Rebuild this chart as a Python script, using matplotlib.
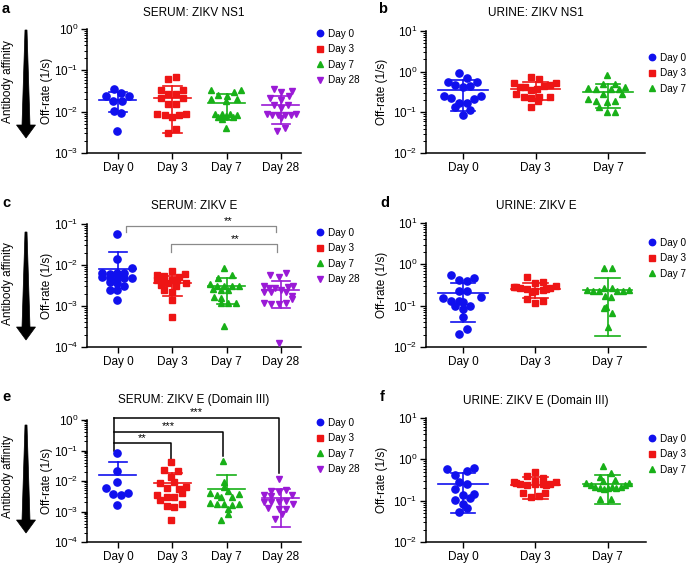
import math
import matplotlib
matplotlib.use('Agg')
import matplotlib.pyplot as plt
from matplotlib.patches import Polygon
from matplotlib.lines import Line2D
from matplotlib.ticker import LogLocator, LogFormatterSciNotation, NullFormatter, FixedLocator

plt.rcParams['font.family'] = ['Liberation Sans', 'DejaVu Sans']
plt.rcParams['mathtext.default'] = 'regular'

# ---------------- data ----------------
days4 = ['Day 0', 'Day 3', 'Day 7', 'Day 28']
days3 = ['Day 0', 'Day 3', 'Day 7']

# Panel a: SERUM ZIKV NS1
a_vals = [
    [0.0353, 0.0244, 0.0290, 0.0244, 0.0181, 0.0181, 0.0102, 0.0091, 0.0035],
    [0.0617, 0.0703, 0.0328, 0.0328, 0.0267, 0.0267, 0.0210, 0.0212, 0.0153, 0.0153,
     0.0086, 0.0083, 0.0074, 0.0083, 0.0086, 0.0039, 0.0030],
    [0.0328, 0.0305, 0.0340, 0.0248, 0.0239, 0.0202, 0.0202, 0.0178, 0.0088, 0.0089,
     0.0089, 0.0083, 0.0075, 0.0080, 0.0075, 0.0068, 0.0040],
    [0.0347, 0.0305, 0.0316, 0.0210, 0.0244, 0.0191, 0.0145, 0.0145, 0.0120, 0.0086,
     0.0083, 0.0083, 0.0083, 0.0083, 0.0089, 0.0069, 0.0040, 0.0034],
]
a_offs = [
    [-0.08, -0.22, 0.06, 0.20, -0.09, 0.07, -0.08, 0.06, -0.01],
    [-0.07, 0.07, -0.21, 0.20, -0.07, 0.07, -0.21, 0.20, -0.07, 0.07,
     -0.28, -0.13, 0.0, 0.13, 0.26, 0.07, -0.07],
    [-0.28, 0.13, 0.26, -0.15, 0.0, -0.28, 0.20, -0.01, -0.21, -0.08,
     0.06, 0.19, -0.15, -0.01, 0.12, -0.08, -0.01],
    [-0.13, 0.01, 0.21, -0.20, 0.14, 0.0, -0.13, 0.13, 0.0, -0.26,
     -0.16, -0.06, 0.07, 0.18, 0.28, 0.0, 0.07, -0.07],
]
a_mean = [0.0195, 0.0220, 0.0162, 0.0147]
a_sd = [0.0098, 0.0190, 0.0100, 0.0097]

# Panel b: URINE ZIKV NS1
b_vals = [
    [0.95, 0.557, 0.479, 0.711, 0.557, 0.412, 0.444, 0.252, 0.230, 0.213, 0.247,
     0.135, 0.170, 0.170, 0.112, 0.088],
    [0.739, 0.673, 0.517, 0.428, 0.428, 0.444, 0.470, 0.517, 0.361, 0.375, 0.288,
     0.238, 0.230, 0.238, 0.238, 0.186, 0.135],
    [0.813, 0.489, 0.489, 0.397, 0.368, 0.368, 0.382, 0.420, 0.277, 0.288, 0.217,
     0.190, 0.183, 0.190, 0.135, 0.102, 0.104],
]
b_offs = [
    [-0.06, -0.21, -0.11, 0.05, 0.20, 0.0, 0.10, -0.26, -0.16, 0.15, 0.25,
     -0.11, -0.06, 0.05, 0.10, 0.0],
    [-0.06, 0.05, -0.30, -0.21, -0.14, 0.12, 0.20, 0.28, -0.06, 0.02, -0.27,
     -0.16, -0.06, 0.05, 0.20, 0.03, -0.06],
    [-0.01, -0.07, 0.09, -0.27, -0.17, 0.04, 0.15, 0.24, 0.19, -0.07, -0.27,
     -0.17, -0.01, 0.09, -0.12, -0.01, 0.09],
]
b_mean = [0.36, 0.38, 0.32]
b_sd = [0.25, 0.175, 0.19]

# Panel c: SERUM ZIKV E
c_vals = [
    [0.0560, 0.0140, 0.0086, 0.0065, 0.0060, 0.0063, 0.0063, 0.0052, 0.0047, 0.0047,
     0.0047, 0.0048, 0.0037, 0.0039, 0.0030, 0.0024, 0.0024, 0.0014],
    [0.0073, 0.0057, 0.0055, 0.0059, 0.0051, 0.0043, 0.0043, 0.0044, 0.0042, 0.0036,
     0.0033, 0.0036, 0.0030, 0.0025, 0.0022, 0.0014, 0.00055],
    [0.0086, 0.0057, 0.0049, 0.0034, 0.0031, 0.0031, 0.0030, 0.0031, 0.0026, 0.0025,
     0.0024, 0.0017, 0.0016, 0.0012, 0.0012, 0.0012, 0.00033],
    [0.0057, 0.0065, 0.0050, 0.0031, 0.0028, 0.0027, 0.0025, 0.0029, 0.0030, 0.0022,
     0.0022, 0.0022, 0.0018, 0.0012, 0.0011, 0.0011, 0.0012, 0.0015, 0.000128],
]
c_offs = [
    [-0.02, -0.02, 0.25, -0.29, -0.15, -0.02, 0.12, -0.29, -0.15, -0.02,
     0.12, 0.25, -0.02, -0.15, 0.12, -0.15, -0.02, -0.02],
    [-0.01, -0.28, -0.15, 0.23, 0.13, -0.28, -0.15, -0.01, 0.09, 0.25,
     -0.21, -0.08, 0.06, -0.15, -0.01, -0.01, -0.01],
    [-0.05, 0.10, -0.15, -0.31, -0.17, -0.04, 0.10, 0.23, -0.25, -0.11,
     0.02, -0.24, -0.11, -0.10, 0.03, 0.17, -0.04],
    [-0.20, 0.10, -0.04, -0.32, -0.21, -0.10, 0.01, 0.13, 0.23, -0.32,
     -0.18, 0.10, 0.21, -0.32, -0.18, -0.04, 0.10, 0.21, -0.04],
]
c_mean = [0.0080, 0.0036, 0.0030, 0.0025]
c_sd = [0.0124, 0.0018, 0.0019, 0.0016]

# Panel d: URINE ZIKV E
d_vals = [
    [0.552, 0.418, 0.403, 0.458, 0.231, 0.231, 0.150, 0.132, 0.132, 0.100, 0.162,
     0.100, 0.125, 0.0846, 0.0542, 0.0272, 0.0206],
    [0.503, 0.360, 0.374, 0.278, 0.263, 0.248, 0.231, 0.239, 0.263, 0.299, 0.285,
     0.218, 0.142, 0.118, 0.132, 0.248],
    [0.800, 0.800, 0.235, 0.226, 0.226, 0.272, 0.263, 0.226, 0.226, 0.239, 0.171,
     0.165, 0.093, 0.086, 0.065, 0.030],
]
d_offs = [
    [-0.16, -0.06, 0.05, 0.15, -0.06, 0.05, -0.27, -0.16, -0.06, 0.10, 0.25,
     -0.11, 0.0, 0.0, 0.0, 0.05, -0.06],
    [-0.11, 0.0, 0.10, -0.30, -0.21, -0.11, 0.0, 0.10, 0.20, 0.28, -0.26,
     -0.05, -0.11, 0.0, 0.10, 0.15],
    [-0.05, 0.06, -0.29, -0.20, -0.12, -0.05, 0.06, 0.13, 0.21, 0.30, -0.04,
     0.05, -0.02, -0.05, 0.06, 0.0],
]
d_mean = [0.20, 0.25, 0.245]
d_sd = [0.16, 0.10, 0.227]

# Panel e: SERUM ZIKV E (Domain III)
e_vals = [
    [0.0824, 0.0209, 0.0092, 0.0060, 0.0038, 0.0036, 0.0039, 0.0016],
    [0.0420, 0.0237, 0.0219, 0.0140, 0.0083, 0.0092, 0.0057, 0.0053, 0.0063, 0.0041,
     0.0036, 0.0023, 0.0031, 0.0031, 0.0015, 0.0014, 0.0018, 0.00053],
    [0.0464, 0.0092, 0.0066, 0.0041, 0.0035, 0.0047, 0.0038, 0.0030, 0.0031, 0.0019,
     0.0018, 0.0017, 0.0016, 0.0018, 0.0012, 0.0008, 0.00053],
    [0.0112, 0.0047, 0.0044, 0.0049, 0.0035, 0.0032, 0.0035, 0.0020, 0.0021, 0.0021,
     0.0022, 0.0017, 0.0013, 0.0012, 0.0012, 0.0008, 0.00056],
]
e_offs = [
    [-0.02, -0.02, -0.02, -0.22, -0.09, 0.05, 0.18, -0.02],
    [-0.02, -0.16, 0.11, -0.02, -0.23, 0.04, -0.09, 0.12, 0.25, 0.18,
     -0.29, -0.23, -0.09, 0.04, -0.09, 0.04, 0.18, -0.02],
    [-0.06, -0.05, -0.04, -0.31, -0.17, 0.02, 0.23, -0.11, 0.10, -0.31,
     -0.17, -0.04, 0.10, 0.23, 0.02, 0.02, -0.11],
    [-0.04, -0.18, -0.04, 0.10, -0.32, -0.18, 0.21, -0.32, -0.18, -0.04,
     0.10, 0.23, -0.23, -0.04, 0.10, 0.02, -0.10],
]
e_mean = [0.0159, 0.0085, 0.0056, 0.0028]
e_sd = [0.0272, 0.0099, 0.0107, 0.0025]

# Panel f: URINE ZIKV E (Domain III)
f_vals = [
    [0.586, 0.620, 0.535, 0.421, 0.286, 0.256, 0.187, 0.134, 0.142, 0.118, 0.102,
     0.085, 0.068, 0.0525],
    [0.506, 0.406, 0.356, 0.286, 0.247, 0.238, 0.247, 0.247, 0.256, 0.286, 0.153,
     0.122, 0.132, 0.156, 0.296, 0.265, 0.238],
    [0.705, 0.370, 0.470, 0.308, 0.265, 0.238, 0.213, 0.198, 0.187, 0.198, 0.213,
     0.198, 0.213, 0.238, 0.265, 0.300, 0.108, 0.108],
]
f_offs = [
    [-0.22, 0.15, 0.05, -0.11, -0.06, 0.05, -0.11, 0.0, 0.15, 0.10, -0.11,
     0.0, 0.05, -0.06],
    [0.0, -0.11, 0.10, -0.30, -0.21, -0.11, 0.0, 0.10, 0.20, 0.28, -0.17,
     -0.06, 0.05, 0.14, 0.0, -0.26, 0.15],
    [-0.06, -0.11, 0.05, 0.10, -0.30, -0.23, -0.17, -0.11, -0.05, 0.01, 0.06,
     0.12, 0.18, 0.24, 0.30, -0.06, -0.11, 0.05],
]
f_mean = [0.256, 0.238, 0.252]
f_sd = [0.205, 0.13, 0.17]

titles = ['SERUM: ZIKV NS1', 'URINE: ZIKV NS1', 'SERUM: ZIKV E', 'URINE: ZIKV E',
          'SERUM: ZIKV E (Domain III)', 'URINE: ZIKV E (Domain III)']
letters = ['a', 'b', 'c', 'd', 'e', 'f']

colors = ['#1010ee', '#ee1515', '#18b018', '#9a1ad6']
markers = ['o', 's', '^', 'v']
msizes = [5.2, 4.8, 4.8, 4.8]

W, H = 691, 563
fig = plt.figure(figsize=(W / 100, H / 100), dpi=100)


def px_axes(x0, x1, ytop, ybot):
    return fig.add_axes([x0 / W, 1 - ybot / H, (x1 - x0) / W, (ybot - ytop) / H])


def draw_panel(ax, vals, offs, means, sds, labels, ylim, xlim, title, title_dy,
               leg_x, leg_y, ylab_x):
    hw, cw = 0.34, 0.17
    for i, (v, o) in enumerate(zip(vals, offs)):
        c = colors[i]
        ax.plot([i + d for d in o], v, ls='none', marker=markers[i], ms=msizes[i],
                color=c, mec=c, zorder=3, clip_on=False)
        m, s = means[i], sds[i]
        ax.plot([i - hw, i + hw], [m, m], color=c, lw=1.2, zorder=4)
        ax.plot([i, i], [m, m + s], color=c, lw=1.2, zorder=4)
        ax.plot([i - cw, i + cw], [m + s, m + s], color=c, lw=1.2, zorder=4)
        if m - s > 0:
            ax.plot([i, i], [m - s, m], color=c, lw=1.2, zorder=4)
            ax.plot([i - cw, i + cw], [m - s, m - s], color=c, lw=1.2, zorder=4)
    ax.set_yscale('log')
    ax.set_ylim(*ylim)
    ax.set_xlim(*xlim)
    lo, hi = ylim
    dec = list(range(int(round(math.log10(lo))), int(round(math.log10(hi))) + 1))
    ax.yaxis.set_major_locator(FixedLocator([10.0 ** k for k in dec]))
    ax.yaxis.set_major_formatter(LogFormatterSciNotation())
    ax.yaxis.set_minor_locator(LogLocator(base=10, subs=range(2, 10), numticks=20))
    ax.yaxis.set_minor_formatter(NullFormatter())
    ax.set_xticks(range(len(labels)))
    ax.set_xticklabels(labels, fontsize=8.5)
    ax.tick_params(axis='y', which='major', labelsize=8.5, length=4, width=1, pad=2)
    ax.tick_params(axis='y', which='minor', length=2, width=0.7)
    ax.tick_params(axis='x', length=4, width=1, pad=2.5)
    for sp in ['top', 'right']:
        ax.spines[sp].set_visible(False)
    for sp in ['left', 'bottom']:
        ax.spines[sp].set_linewidth(1.1)
    ax.set_ylabel('Off-rate (1/s)', fontsize=8.5)
    ax.yaxis.set_label_coords(ylab_x, 0.5)
    ax.text(0.5, 1 + title_dy, title, transform=ax.transAxes, ha='center',
            va='center', fontsize=8.5)
    handles = [Line2D([], [], ls='none', marker=markers[i], ms=msizes[i] - 0.6,
                      color=colors[i]) for i in range(len(labels))]
    ax.legend(handles, labels, loc='upper left', bbox_to_anchor=(leg_x, leg_y),
              frameon=False, fontsize=7.2, handlelength=0.6, handletextpad=0.45,
              labelspacing=0.56, borderpad=0, borderaxespad=0)


def arrow(ytop, ybot, xc=26):
    pts = [(xc, ybot), (xc - 9.5, ybot - 13), (xc - 4, ybot - 13), (xc - 1, ytop),
           (xc + 1, ytop), (xc + 4, ybot - 13), (xc + 9.5, ybot - 13)]
    fig.patches.append(Polygon([(x / W, 1 - y / H) for x, y in pts], closed=True,
                               transform=fig.transFigure, facecolor='black',
                               edgecolor='black', lw=0.5))
    fig.text(8 / W, 1 - ((ytop + ybot) / 2 - 2) / H, 'Antibody affinity',
             rotation=90, ha='center', va='center', fontsize=8.5)


axa = px_axes(87, 301, 29, 153)
draw_panel(axa, a_vals, a_offs, a_mean, a_sd, days4, (1e-3, 1), (-0.57, 3.37),
           titles[0], 0.13, 1.075, 1.003, -0.159)
axb = px_axes(426, 645, 31, 153)
draw_panel(axb, b_vals, b_offs, b_mean, b_sd, days3, (1e-2, 10), (-0.51, 2.51),
           titles[1], 0.148, 1.02, 0.823, -0.174)
axc = px_axes(87, 301, 224, 347)
draw_panel(axc, c_vals, c_offs, c_mean, c_sd, days4, (1e-4, 1e-1), (-0.57, 3.37),
           titles[2], 0.146, 1.075, 0.971, -0.159)
axd = px_axes(426, 646, 223, 347)
draw_panel(axd, d_vals, d_offs, d_mean, d_sd, days3, (1e-2, 10), (-0.51, 2.53),
           titles[3], 0.137, 1.015, 0.882, -0.174)
axe = px_axes(87, 301, 420, 542)
draw_panel(axe, e_vals, e_offs, e_mean, e_sd, days4, (1e-4, 1), (-0.57, 3.37),
           titles[4], 0.163, 1.075, 1.02, -0.159)
axf = px_axes(426, 646, 418, 542)
draw_panel(axf, f_vals, f_offs, f_mean, f_sd, days3, (1e-2, 10), (-0.51, 2.53),
           titles[5], 0.136, 1.015, 0.875, -0.174)

# significance brackets panel c (gray)
gc = '#8a8a8a'
axc.plot([0.15, 0.15, 2.91, 2.91], [0.0627, 0.0893, 0.0893, 0.0627], color=gc,
         lw=0.9, clip_on=False)
axc.text(2.02, 0.118, '**', ha='center', va='center', fontsize=8, clip_on=False)
axc.plot([0.975, 0.975, 2.93, 2.93], [0.0204, 0.0319, 0.0319, 0.0204], color=gc,
         lw=0.9, clip_on=False)
axc.text(2.15, 0.042, '**', ha='center', va='center', fontsize=8)

# significance brackets panel e (black)
axe.plot([-0.08, -0.08], [0.0933, 1.19], color='black', lw=1.1, clip_on=False)
axe.plot([-0.08, 2.97, 2.97], [1.19, 1.19, 0.0184], color='black', lw=1.1,
         clip_on=False)
axe.plot([-0.08, 1.93, 1.93], [0.418, 0.418, 0.0642], color='black', lw=1.1,
         clip_on=False)
axe.plot([-0.08, 0.97, 0.97], [0.170, 0.170, 0.0500], color='black', lw=1.1,
         clip_on=False)
axe.text(1.45, 1.85, '***', ha='center', va='center', fontsize=8, clip_on=False)
axe.text(0.93, 0.62, '***', ha='center', va='center', fontsize=8)
axe.text(0.44, 0.25, '**', ha='center', va='center', fontsize=8)

# arrows
arrow(30, 138)
arrow(232, 340)
arrow(425, 533)

# panel letters
for L, (x, y) in zip(letters, [(2, 2), (378, 2), (2, 196), (380, 196), (2, 390), (380, 390)]):
    fig.text(x / W, 1 - y / H, L, fontsize=10.5, fontweight='bold', va='top', ha='left')

fig.savefig('out.png', dpi=100)
